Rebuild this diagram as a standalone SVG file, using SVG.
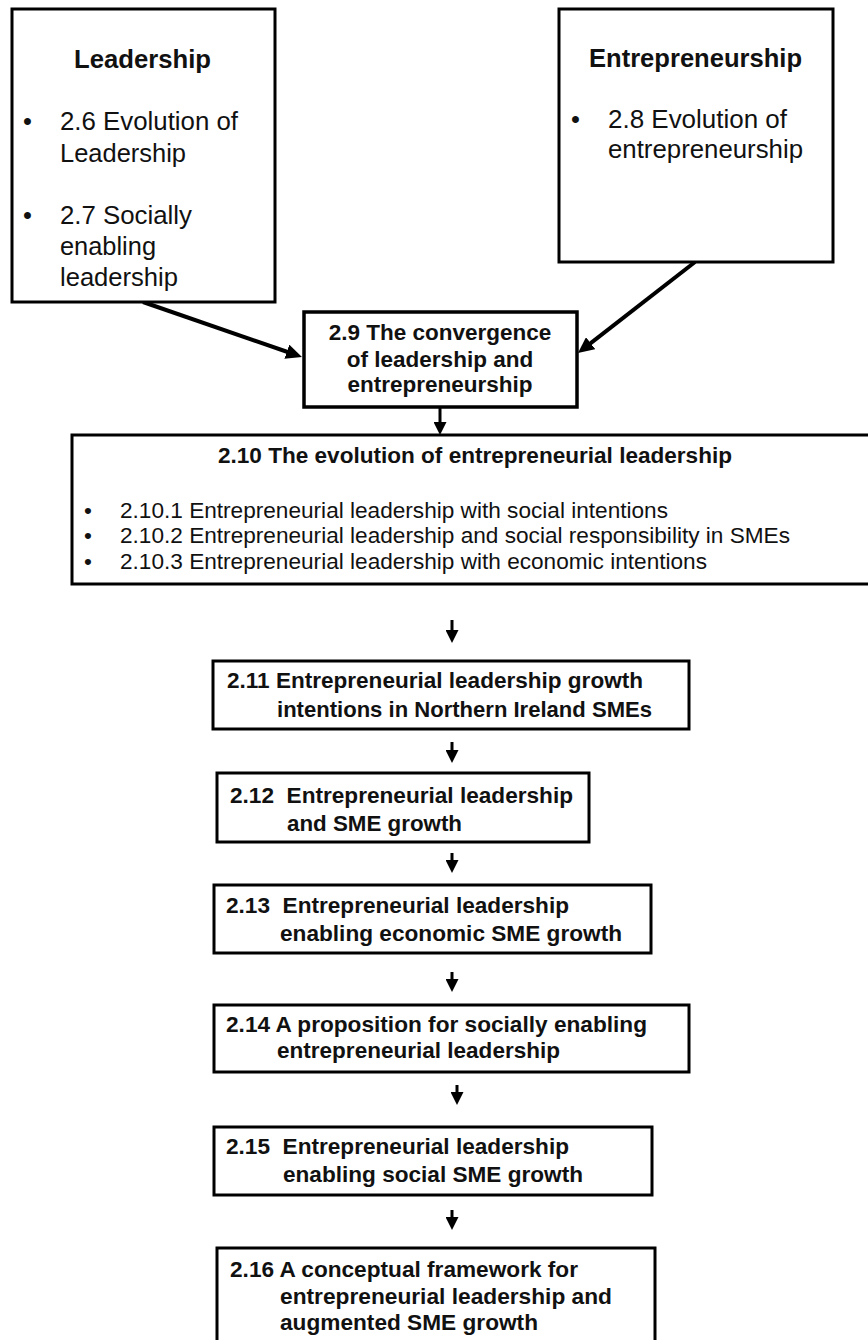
<svg xmlns="http://www.w3.org/2000/svg" width="868" height="1340" viewBox="0 0 868 1340">
  <style>
    .box { fill: #ffffff; stroke: #000000; stroke-width: 3; }
    .t { font-family: "Liberation Sans", Arial, sans-serif; fill: #111111; }
    .n { font-size: 25.5px; }
    .hb { font-size: 25px; font-weight: bold; }
    .b { font-size: 22.5px; font-weight: bold; }
    .li { font-size: 22.5px; }
    .link { fill: none; stroke: #000000; stroke-width: 4; marker-end: url(#bighead); }
    .slink { fill: none; stroke: #000000; stroke-width: 3; marker-end: url(#head); }
  </style>
  <defs>
    <marker id="head" markerUnits="userSpaceOnUse" viewBox="0 0 13 13" markerWidth="13" markerHeight="13" refX="7" refY="6.5" orient="auto">
      <path d="M0,0 L13,6.5 L0,13 z" fill="#000000"/>
    </marker>
    <marker id="bighead" markerUnits="userSpaceOnUse" viewBox="0 0 16 15" markerWidth="16" markerHeight="15" refX="10" refY="7.5" orient="auto">
      <path d="M0,0 L16,7.5 L0,15 z" fill="#000000"/>
    </marker>
  </defs>

  <rect width="868" height="1340" fill="#ffffff"/>

  <!-- connectors -->
  <g id="connectors">
    <path class="link" d="M143,302 L296.3,355"/>
    <path class="link" d="M695,262 L582.7,349.3"/>
    <path class="slink" d="M440,407 L440,429"/>
    <path class="slink" d="M452,620 L452,637"/>
    <path class="slink" d="M452,742 L452,757"/>
    <path class="slink" d="M452,853 L452,867"/>
    <path class="slink" d="M452,972 L452,986"/>
    <path class="slink" d="M457,1085 L457,1099"/>
    <path class="slink" d="M452,1210 L452,1224"/>
  </g>

  <!-- Leadership -->
  <g id="leadership">
    <rect class="box" x="12" y="9" width="263" height="293"/>
    <text class="t hb" x="74" y="68" textLength="137" lengthAdjust="spacingAndGlyphs">Leadership</text>
    <text class="t n" x="23" y="130">•</text>
    <text class="t n" x="60" y="130" textLength="178" lengthAdjust="spacingAndGlyphs">2.6 Evolution of</text>
    <text class="t n" x="60" y="162" textLength="126" lengthAdjust="spacingAndGlyphs">Leadership</text>
    <text class="t n" x="23" y="224">•</text>
    <text class="t n" x="60" y="224" textLength="132" lengthAdjust="spacingAndGlyphs">2.7 Socially</text>
    <text class="t n" x="60" y="255" textLength="96" lengthAdjust="spacingAndGlyphs">enabling</text>
    <text class="t n" x="60" y="286" textLength="118" lengthAdjust="spacingAndGlyphs">leadership</text>
  </g>

  <!-- Entrepreneurship -->
  <g id="entrepreneurship">
    <rect class="box" x="559" y="9" width="274" height="253"/>
    <text class="t hb" x="589" y="67" textLength="213" lengthAdjust="spacingAndGlyphs">Entrepreneurship</text>
    <text class="t n" x="571" y="128">•</text>
    <text class="t n" x="608" y="128" textLength="179" lengthAdjust="spacingAndGlyphs">2.8 Evolution of</text>
    <text class="t n" x="608" y="158" textLength="195" lengthAdjust="spacingAndGlyphs">entrepreneurship</text>
  </g>

  <!-- 2.9 -->
  <g id="n2-9">
    <rect class="box" x="304" y="312" width="273" height="95" style="stroke-width:3.5"/>
    <text class="t b" x="440" y="340" text-anchor="middle">2.9 The convergence</text>
    <text class="t b" x="440" y="367" text-anchor="middle">of leadership and</text>
    <text class="t b" x="440" y="392" text-anchor="middle">entrepreneurship</text>
  </g>

  <!-- 2.10 -->
  <g id="n2-10">
    <rect class="box" x="72" y="435" width="800" height="149"/>
    <text class="t b" x="218" y="463" textLength="514" lengthAdjust="spacingAndGlyphs">2.10 The evolution of entrepreneurial leadership</text>
    <text class="t li" x="84" y="518">•</text>
    <text class="t li" x="120" y="518" textLength="548" lengthAdjust="spacingAndGlyphs">2.10.1 Entrepreneurial leadership with social intentions</text>
    <text class="t li" x="84" y="543">•</text>
    <text class="t li" x="120" y="543" textLength="670" lengthAdjust="spacingAndGlyphs">2.10.2 Entrepreneurial leadership and social responsibility in SMEs</text>
    <text class="t li" x="84" y="569">•</text>
    <text class="t li" x="120" y="569" textLength="587" lengthAdjust="spacingAndGlyphs">2.10.3 Entrepreneurial leadership with economic intentions</text>
  </g>

  <!-- 2.11 -->
  <g id="n2-11">
    <rect class="box" x="213" y="661" width="476" height="68"/>
    <text class="t b" x="227" y="688" textLength="416" lengthAdjust="spacingAndGlyphs">2.11 Entrepreneurial leadership growth</text>
    <text class="t b" x="277" y="717" textLength="375" lengthAdjust="spacingAndGlyphs">intentions in Northern Ireland SMEs</text>
  </g>

  <!-- 2.12 -->
  <g id="n2-12">
    <rect class="box" x="217" y="773" width="372" height="69"/>
    <text class="t b" x="230" y="803" textLength="343" lengthAdjust="spacingAndGlyphs" xml:space="preserve">2.12  Entrepreneurial leadership</text>
    <text class="t b" x="287" y="831" textLength="175" lengthAdjust="spacingAndGlyphs">and SME growth</text>
  </g>

  <!-- 2.13 -->
  <g id="n2-13">
    <rect class="box" x="214" y="885" width="437" height="68"/>
    <text class="t b" x="226" y="913" textLength="343" lengthAdjust="spacingAndGlyphs" xml:space="preserve">2.13  Entrepreneurial leadership</text>
    <text class="t b" x="280" y="941" textLength="342" lengthAdjust="spacingAndGlyphs">enabling economic SME growth</text>
  </g>

  <!-- 2.14 -->
  <g id="n2-14">
    <rect class="box" x="214" y="1005" width="475" height="67"/>
    <text class="t b" x="226" y="1032" textLength="421" lengthAdjust="spacingAndGlyphs">2.14 A proposition for socially enabling</text>
    <text class="t b" x="277" y="1058" textLength="283" lengthAdjust="spacingAndGlyphs">entrepreneurial leadership</text>
  </g>

  <!-- 2.15 -->
  <g id="n2-15">
    <rect class="box" x="214" y="1127" width="438" height="68"/>
    <text class="t b" x="226" y="1154" textLength="343" lengthAdjust="spacingAndGlyphs" xml:space="preserve">2.15  Entrepreneurial leadership</text>
    <text class="t b" x="283" y="1182" textLength="300" lengthAdjust="spacingAndGlyphs">enabling social SME growth</text>
  </g>

  <!-- 2.16 -->
  <g id="n2-16">
    <rect class="box" x="217" y="1248" width="438" height="110"/>
    <text class="t b" x="230" y="1277" textLength="348" lengthAdjust="spacingAndGlyphs">2.16 A conceptual framework for</text>
    <text class="t b" x="280" y="1304" textLength="332" lengthAdjust="spacingAndGlyphs">entrepreneurial leadership and</text>
    <text class="t b" x="280" y="1330" textLength="258" lengthAdjust="spacingAndGlyphs">augmented SME growth</text>
  </g>
</svg>
